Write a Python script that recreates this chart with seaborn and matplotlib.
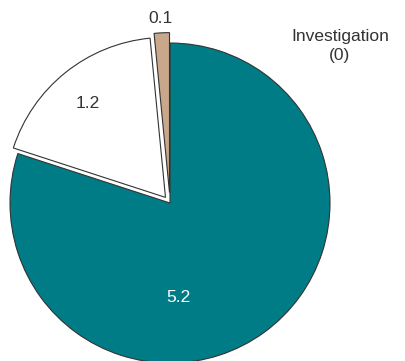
import matplotlib
matplotlib.use("Agg")
import matplotlib.pyplot as plt
import seaborn as sns

sns.set_theme(style="white")
plt.rcParams['font.family'] = ['Liberation Sans', 'DejaVu Sans']

categories = ["Main", "Second", "Third", "Investigation"]
values = [5.2, 1.2, 0.1, 0]
value_labels = ["5.2", "1.2", "0.1", "0"]
colors = ["#007C87", "#FFFFFF", "#C9A78A"]
explode = [0.0, 0.045, 0.065]

fig = plt.figure(figsize=(4.06, 3.61), dpi=100)
ax = fig.add_axes([0, 0, 1, 1])
ax.pie(values[:3], colors=colors, explode=explode, startangle=90,
       counterclock=False, radius=1.0,
       wedgeprops=dict(edgecolor="#333333", linewidth=0.8))
ax.set_xlim(-1.0625, 1.475)
ax.set_ylim(-0.9875, 1.269)
ax.set_aspect('equal')
ax.axis('off')

fs = 12.5
ax.text(0.05, -0.5875, value_labels[0], color="white", fontsize=fs, ha="center", va="center")
ax.text(-0.5125, 0.625, value_labels[1], color="#333333", fontsize=fs, ha="center", va="center")
ax.text(-0.0625, 1.156, value_labels[2], color="#333333", fontsize=fs, ha="center", va="center")
ax.text(1.0625, 0.98, f"{categories[3]}\n({value_labels[3]})", color="#333333", fontsize=fs,
        ha="center", va="center", linespacing=1.3)

fig.savefig("out.png", dpi=100)
